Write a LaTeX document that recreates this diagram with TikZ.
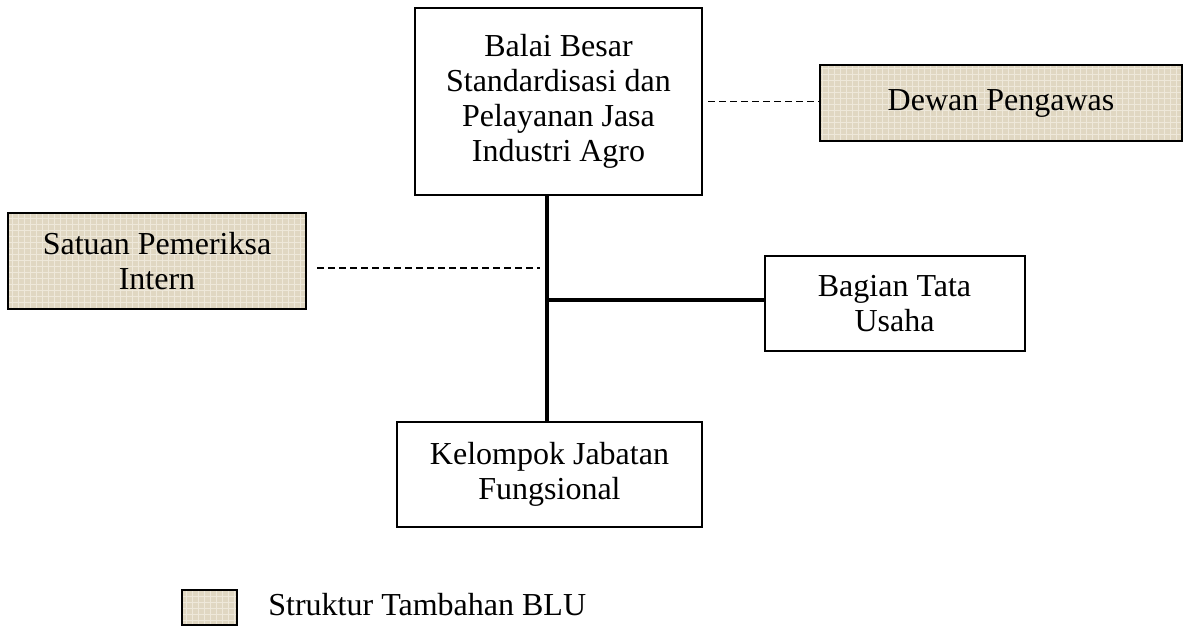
\documentclass[tikz,border=0pt]{standalone}
\usepackage{fontspec}
\setmainfont{Liberation Serif}
\usetikzlibrary{patterns}
\definecolor{bluBeige}{RGB}{224,215,194}
\definecolor{bluWeave}{RGB}{238,232,218}

\begin{document}
\begin{tikzpicture}[x=0.5pt,y=-0.5pt,
    unit/.style={draw,line width=1pt,align=center,inner sep=0pt,font=\fontsize{16}{17.5}\selectfont},
    blu/.style={unit,preaction={fill=bluBeige},pattern=grid,pattern color=bluWeave},
    trunkline/.style={line width=2pt},
    dashline/.style={line width=0.7pt,dash pattern=on 3.5pt off 2pt}]
    \useasboundingbox (0,0) rectangle (1184,626);

    % Draw the units
    \node[unit,minimum width=143.5pt,minimum height=93.5pt] (balai) at (558.5,101.5)
        {Balai Besar\\Standardisasi dan\\Pelayanan Jasa\\Industri Agro};
    \node[blu,minimum width=181pt,minimum height=38pt] (dewan) at (1001,103) {Dewan Pengawas};
    \node[blu,minimum width=149pt,minimum height=48pt] (satuan) at (157,261) {Satuan Pemeriksa\\Intern};
    \node[unit,minimum width=130pt,minimum height=47.5pt] (bagian) at (894.5,303.5) {Bagian Tata\\Usaha};
    \node[unit,minimum width=152.5pt,minimum height=52.5pt] (kelompok) at (549.5,474.5)
        {Kelompok Jabatan\\Fungsional};

    % Draw the lines
    \coordinate (trunk) at (547,300);
    \coordinate (satend) at (540,268);
    \draw[trunkline] (balai.south -| trunk) -- (kelompok.north -| trunk);
    \draw[trunkline] (trunk) -- (trunk -| bagian.west);
    \draw[dashline] ([xshift=2.5pt]balai.east) -- (dewan.west |- balai.east);
    \draw[dashline] ([xshift=5pt]satuan.east |- satend) -- (satend);

    % Legend
    \node[blu,minimum width=27.5pt,minimum height=17.5pt] (legbox) at (209.5,607.5) {};
    \node[anchor=base west,inner sep=0pt,font=\fontsize{16}{17.5}\selectfont] (legtext) at (268,615)
        {Struktur Tambahan BLU};
\end{tikzpicture}
\end{document}
